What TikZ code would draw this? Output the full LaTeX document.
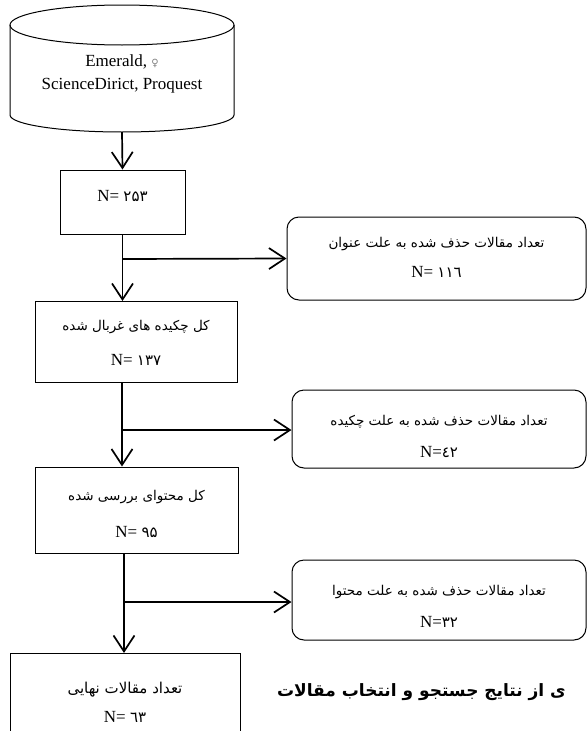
\documentclass[tikz,border=0pt]{standalone}
\usepackage{fontspec}
\setmainfont{Liberation Serif}
\newfontfamily\arabicfont[Script=Arabic]{DejaVu Sans}
\newfontfamily\symfont{DejaVu Sans}
\TeXXeTstate=1
\usetikzlibrary{arrows.meta}
\begin{document}
\begin{tikzpicture}[x=1pt,y=-1pt,
  box/.style={draw, line width=1pt, rectangle, inner sep=0pt},
  sidebox/.style={draw, line width=1pt, rectangle, rounded corners=12pt, inner sep=0pt},
  arr/.style={line width=1.7pt, -{Straight Barb[length=16pt,width=21pt,line width=1.7pt]}},
  lat/.style={font=\fontsize{17}{19}\selectfont, inner sep=0pt},
  fa/.style={font=\fontsize{13.5}{15}\selectfont\arabicfont, inner sep=0pt},
  num/.style={font=\fontsize{17}{19}\selectfont, inner sep=0pt}]
\useasboundingbox (0,0) rectangle (588,731);
% database cylinder
\draw[line width=1pt] (10,25) -- (10,115) arc[start angle=180,end angle=0,x radius=112,y radius=17] -- (234,25);
\draw[line width=1pt] (122,25) ellipse[x radius=112, y radius=20];
\coordinate (db) at (122,132);
\node[lat] (dbt1) at (122,62) {Emerald, {\symfont\fontsize{10}{11}\selectfont\color{gray}♀}};
\node[lat] (dbt2) at (122,86) {ScienceDirict, Proquest};
% main boxes
\node[box, minimum width=125pt, minimum height=64pt] (b1) at (122.5,202) {};
\node[num] (b1t) at (122.5,196) {N= {\arabicfont\fontsize{15}{17}\selectfont ۲۵۳}};
\node[box, minimum width=202pt, minimum height=81pt] (b2) at (136,342) {};
\node[fa] (b2t1) at (136,327) {\beginR کل چکیده های غربال شده\endR};
\node[num] (b2t2) at (136,360) {N= {\arabicfont\fontsize{15}{17}\selectfont ۱۳۷}};
\node[box, minimum width=203pt, minimum height=86pt] (b3) at (136.5,510) {};
\node[fa] (b3t1) at (136.5,497) {\beginR کل محتوای بررسی شده\endR};
\node[num] (b3t2) at (136.5,532) {N= {\arabicfont\fontsize{15}{17}\selectfont ۹۵}};
\draw[line width=1pt] (10,740) -- (10,653) coordinate (b4nw) -- (240,653) -- (240,740);
\coordinate (b4) at (124,653);
\node[fa, font=\fontsize{15}{17}\selectfont\arabicfont] (b4t1) at (125,690) {\beginR تعداد مقالات نهایی\endR};
\node[num] (b4t2) at (125,717) {N= {\arabicfont\fontsize{15}{17}\selectfont ٦۳}};
% side boxes
\node[sidebox, minimum width=299pt, minimum height=83pt] (s1) at (436.5,258.5) {};
\node[fa] (s1t1) at (436.5,244) {\beginR تعداد مقالات حذف شده به علت عنوان\endR};
\node[num] (s1t2) at (436.5,272) {N= {\arabicfont\fontsize{15}{17}\selectfont ۱۱٦}};
\node[sidebox, minimum width=294pt, minimum height=78pt] (s2) at (439,429) {};
\node[fa] (s2t1) at (439,422) {\beginR تعداد مقالات حذف شده به علت چکیده\endR};
\node[num] (s2t2) at (439,452) {N={\arabicfont\fontsize{15}{17}\selectfont ٤۲}};
\node[sidebox, minimum width=294pt, minimum height=80pt] (s3) at (439,600) {};
\node[fa] (s3t1) at (439,592) {\beginR تعداد مقالات حذف شده به علت محتوا\endR};
\node[num] (s3t2) at (439,622) {N={\arabicfont\fontsize{15}{17}\selectfont ۳۲}};
% caption
\node[font=\fontsize{17}{19}\selectfont\arabicfont\bfseries, inner sep=0pt, anchor=east] (cap) at (566,692) {\beginR ی از نتایج جستجو و انتخاب مقالات\endR};
% connectors
\draw[arr] (db) -- (b1.north);
\draw[arr] (b1.south) -- (b1.south |- b2.north);
\coordinate (br1) at (122.5,259);
\draw[arr] (br1) -- (s1.west);
\draw[arr] (122,382) coordinate (b2s) -- (b3.north -| b2s);
\coordinate (br2) at (122,430);
\draw[arr] (br2) -- (s2.west |- br2);
\draw[arr] (124,553) coordinate (b3s) -- (b4);
\coordinate (br3) at (124,602);
\draw[arr] (br3) -- (s3.west |- br3);
\end{tikzpicture}
\end{document}
